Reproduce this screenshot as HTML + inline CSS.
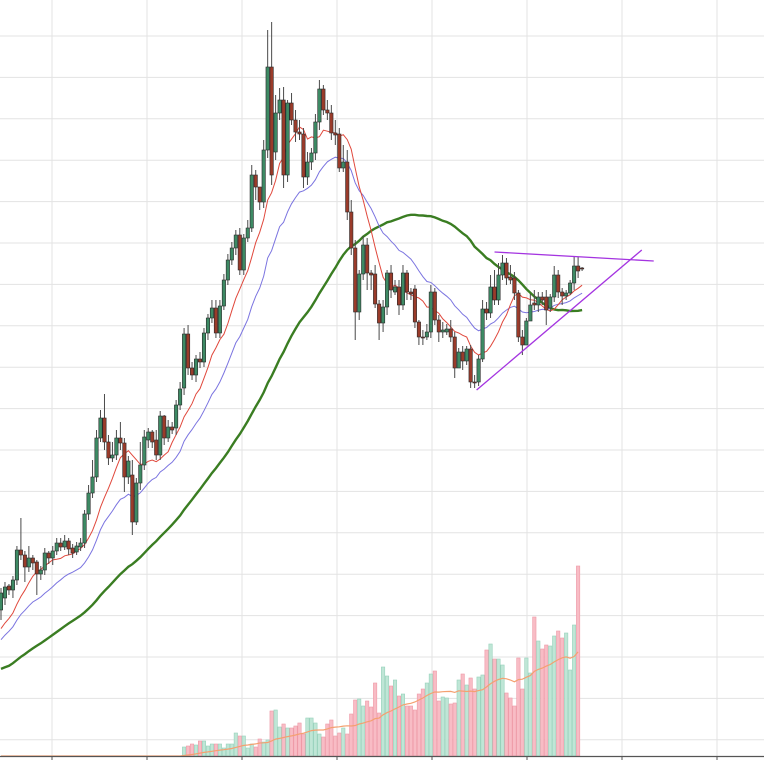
<!DOCTYPE html>
<html><head><meta charset="utf-8"><style>
html,body{margin:0;padding:0;background:#fff;width:764px;height:760px;overflow:hidden}
svg{display:block}
</style></head><body>
<svg id="chart" width="764" height="760" viewBox="0 0 764 760" xmlns="http://www.w3.org/2000/svg">
<g id="grid"></g>
<g id="vol"></g>
<g id="lines"></g>
<g id="candles"></g>
<g id="trend"></g>
<g id="axis"></g>
</svg>
<script>
const history = [40,45,42,50,48,55,52,58,60,57,63,66,62,70,68,74,72,78,80,77,84,86,83,90,92,88,95,98,96,102,105,101,108,110,106,113,115,112,118,120,117,124,126,122,128,130,127,133,140];
const opens = [150,162,174,170,180,210,205,193,202,198,186,190,207,202,209,217,213,219,212,208,213,217,246,267,283,322,342,318,302,305,322,317,283,285,238,277,295,320,328,320,305,344,322,333,332,355,372,426,392,385,401,398,427,442,452,427,454,480,500,512,525,490,522,532,585,573,558,610,693,608,647,660,585,657,640,628,626,583,598,607,638,671,650,647,627,626,592,598,548,512,448,486,515,487,486,456,437,453,487,468,473,455,487,468,471,438,423,423,428,468,440,428,428,431,423,392,408,399,411,378,378,401,451,447,473,460,485,497,483,482,467,423,415,439,457,455,463,463,452,463,485,468,464,467,477,494,492];
const closes = [167,173,170,180,210,205,193,202,197,186,190,207,202,209,217,213,219,211,207,214,217,246,267,283,322,342,318,302,305,322,317,283,299,238,277,295,323,328,318,305,344,322,333,330,355,371,426,392,385,401,398,427,442,452,427,454,480,500,512,525,490,522,532,585,573,558,610,693,585,647,660,585,657,640,628,626,583,598,607,638,671,650,647,627,625,592,598,548,512,448,486,515,487,485,456,437,453,487,470,473,455,487,468,466,438,423,422,428,468,440,428,430,431,423,392,408,399,411,378,377,401,451,447,473,460,485,497,482,480,467,423,415,439,455,455,463,460,450,463,485,468,464,467,477,494,489,491];
const highs = [172,178,176,184,214,242,209,214,205,200,194,212,209,214,222,222,225,222,216,218,222,250,275,300,330,350,366,325,318,330,338,322,304,300,282,318,330,332,330,330,349,345,340,338,360,378,432,435,398,405,408,432,446,460,460,460,486,506,518,530,532,526,540,595,590,570,620,730,738,665,672,673,660,667,650,640,632,608,612,646,680,675,660,655,640,632,615,610,560,520,490,524,522,490,495,460,460,490,495,480,480,495,490,472,475,440,430,436,475,472,445,438,436,440,428,412,414,414,415,385,405,460,458,485,490,497,505,502,495,488,470,430,442,466,470,468,468,470,466,494,490,472,470,480,503,503,493];
const lows = [140,155,165,162,175,200,178,188,190,165,180,185,196,195,205,209,210,205,202,205,209,212,240,262,278,318,310,295,298,300,310,268,276,225,235,270,290,312,312,300,300,315,318,326,325,350,365,385,380,378,392,393,420,437,422,422,450,475,495,505,485,485,518,528,560,550,552,602,575,600,640,572,578,635,618,620,572,575,590,600,630,645,640,620,615,588,588,540,505,420,440,480,470,470,452,420,428,445,462,465,445,450,460,460,432,415,415,420,422,435,418,422,425,418,382,395,390,395,372,372,374,398,440,442,455,455,480,475,476,460,418,405,418,440,450,448,455,435,448,458,462,455,460,465,470,482,489];
const volumes = [0,0,0,0,0,0,0,0,0,0,0,0,0,0,0,0,0,0,0,0,0,0,0,0,0,0,0,0,0,0,0,0,0,0,0,0,0,0,0,0,0,0,0,0,0,0,
9,10,12,11,15,15,10,12,12,12,8,12,12,23,20,20,8,12,9,17,14,16,45,46,29,32,28,28,30,33,22,38,38,33,22,19,32,36,20,23,28,22,42,56,57,50,55,49,73,43,89,80,70,76,60,62,50,50,46,62,67,73,82,85,55,59,58,52,53,76,82,71,78,67,79,81,106,112,97,97,91,63,58,50,98,67,98,83,139,115,107,111,110,120,125,118,123,86,131,190,0];
const xTicks = [52,147,242,337,432,527,622,717];
const trendUpper = [[124,508],[164,499]];
const trendLower = [[119.5,370],[161,510]];

const NS = "http://www.w3.org/2000/svg";
function xS(i){return 1 + 3.98*i;}
function yS(p){return 760 - p;}
function vS(v){return 756 - v;}
function mk(tag, attrs, parent){const e=document.createElementNS(NS,tag);for(const k in attrs)e.setAttribute(k,attrs[k]);parent.appendChild(e);return e;}

const grid=document.getElementById('grid');
for(let k=-1;k<18;k++){const y=36+41.4*k;
 const l=mk('line',{x1:0,x2:764,y1:y,y2:y,stroke:'#e3e3e3','stroke-width':1},grid);
 
 }
xTicks.forEach(x=>{const l=mk('line',{x1:x,x2:x,y1:0,y2:756,stroke:'#e3e3e3','stroke-width':1},grid);
 
 });

const axis=document.getElementById('axis');
const al=mk('line',{x1:0,x2:764,y1:756.5,y2:756.5,stroke:'#555','stroke-width':1.2},axis);


xTicks.forEach(x=>{const t=mk('line',{x1:x,x2:x,y1:756,y2:760,stroke:'#555','stroke-width':1},axis);
 
 });

const vol=document.getElementById('vol');
volumes.forEach((v,i)=>{if(v<=0)return;const up=closes[i]>=opens[i];
 const r=mk('rect',{x:xS(i)-1.7,y:vS(v),width:3.4,height:v,fill:up?'#bfe6d6':'#f8bcc5',stroke:up?'#97d1bb':'#ee9aa7','stroke-width':0.6},vol);
 
 });

const allC = history.concat(closes);
function sma(arr,n){const out=[];for(let i=0;i<closes.length;i++){const j=i+history.length;let s=0,c=0;for(let k=Math.max(0,j-n+1);k<=j;k++){s+=arr[k];c++;}out.push(s/c);}return out;}
function ema(arr,n){const a=2/(n+1);let e=arr[0];const out=[];for(let j=0;j<arr.length;j++){e=j?a*arr[j]+(1-a)*e:arr[0];if(j>=history.length)out.push(e);}return out;}
function path(vals,fy){return vals.map((v,i)=>(i?'L':'M')+xS(i).toFixed(1)+' '+fy(v).toFixed(1)).join(' ');}
const lines=document.getElementById('lines');
const vma=[];for(let i=0;i<volumes.length-1;i++){let s=0,c=0;for(let k=Math.max(0,i-19);k<=i;k++){s+=volumes[k];c++;}vma.push(s/c);}
const pv=mk('path',{d:path(vma,vS),fill:'none',stroke:'#f4a070','stroke-width':1.2},lines);


const p50=mk('path',{d:path(sma(allC,52),yS),fill:'none',stroke:'#3a7d22','stroke-width':2.4},lines);


const p20=mk('path',{d:path(ema(allC,22),yS),fill:'none',stroke:'#7b74e0','stroke-width':1},lines);


const p8=mk('path',{d:path(sma(allC,10),yS),fill:'none',stroke:'#e0483c','stroke-width':1},lines);



const cg=document.getElementById('candles');
closes.forEach((c,i)=>{const o=opens[i];const up=c>=o;const x=xS(i);
 const w=mk('line',{x1:x,x2:x,y1:yS(highs[i]),y2:yS(lows[i]),stroke:'#4a4a4a','stroke-width':1},cg);
 
 
 const top=yS(Math.max(o,c)),h=Math.max(1,Math.abs(o-c));
 const b=mk('rect',{x:x-1.7,y:top,width:3.4,height:h,fill:up?'#3d8a64':'#9a3b2a',stroke:'#2a2a2a','stroke-width':0.6},cg);
 
 });

const tg=document.getElementById('trend');
[trendUpper,trendLower].forEach((t,k)=>{const l=mk('line',{x1:xS(t[0][0]),y1:yS(t[0][1]),x2:xS(t[1][0]),y2:yS(t[1][1]),stroke:'#a434e0','stroke-width':1.3},tg);
 
 });
</script>
</body></html>
